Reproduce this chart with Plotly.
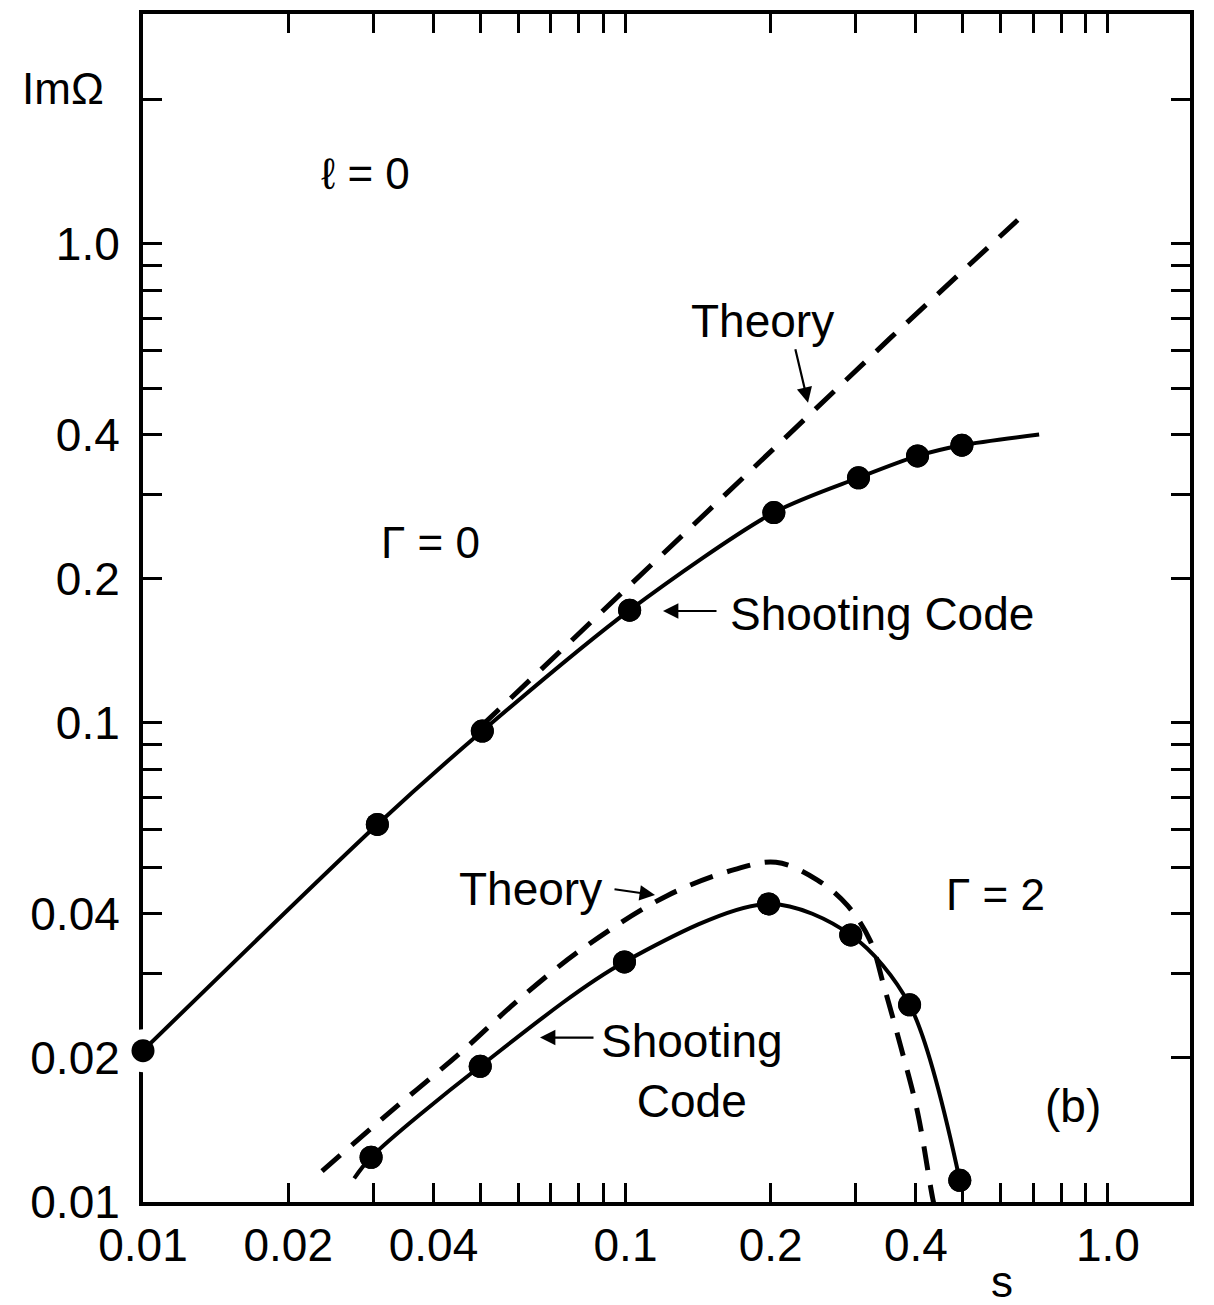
import plotly.graph_objects as go

# ---------------- data ----------------
# Gamma = 0 : shooting code points
g0_s = [0.01, 0.0306, 0.0505, 0.102, 0.203, 0.304, 0.403, 0.498]
g0_im = [0.0207, 0.0614, 0.0962, 0.172, 0.275, 0.325, 0.361, 0.380]
# continuation of the solid Gamma = 0 curve beyond the last point
g0_tail_s = [0.72]
g0_tail_im = [0.40]
# Gamma = 0 : theory (dashed)
g0_theory_s = [0.05, 0.0769, 0.101, 0.231, 0.355, 0.65]
g0_theory_im = [0.098, 0.148, 0.191, 0.425, 0.638, 1.122]

# Gamma = 2 : shooting code points
g2_s = [0.0297, 0.050, 0.0995, 0.198, 0.293, 0.388, 0.493]
g2_im = [0.0124, 0.0192, 0.0317, 0.0419, 0.0361, 0.0258, 0.0111]
# start of the solid Gamma = 2 curve before the first point
g2_head_s = [0.0274]
g2_head_im = [0.0112]
# Gamma = 2 : theory (dashed)
g2_theory_s = [0.0235, 0.0325, 0.0455, 0.0597, 0.0818, 0.122, 0.168, 0.205,
               0.250, 0.289, 0.322, 0.343, 0.372, 0.403, 0.433, 0.44]
g2_theory_im = [0.0116, 0.0154, 0.0205, 0.0263, 0.0339, 0.0436, 0.0494, 0.0512,
                0.0470, 0.0415, 0.0350, 0.0283, 0.0211, 0.0154, 0.0102, 0.0095]

# axis ticks
x_tickvals = [0.01, 0.02, 0.03, 0.04, 0.05, 0.06, 0.07, 0.08, 0.09,
              0.1, 0.2, 0.3, 0.4, 0.5, 0.6, 0.7, 0.8, 0.9, 1.0]
x_ticktext = ["0.01", "0.02", "", "0.04", "", "", "", "", "",
              "0.1", "0.2", "", "0.4", "", "", "", "", "", "1.0"]
y_tickvals = [0.01, 0.02, 0.03, 0.04, 0.05, 0.06, 0.07, 0.08, 0.09,
              0.1, 0.2, 0.3, 0.4, 0.5, 0.6, 0.7, 0.8, 0.9, 1.0, 2.0]
y_ticktext = ["0.01", "0.02", "", "0.04", "", "", "", "", "",
              "0.1", "0.2", "", "0.4", "", "", "", "", "", "1.0", ""]

# ---------------- figure ----------------
W, H = 1214, 1305
ML, MR, MT, MB = 143, 24, 10, 103
PW, PH = W - ML - MR, H - MT - MB
FONT = "Liberation Sans, Arial, Helvetica, sans-serif"


def fx(p):
    return (p - ML) / PW


def fy(p):
    return (H - MB - p) / PH


BLACK = "black"
fig = go.Figure()

# markers first (white halo only on the point sitting on the axis line)
all_s = g0_s + g2_s
all_im = g0_im + g2_im
halo = [20] + [0] * (len(all_s) - 1)
fig.add_trace(go.Scatter(
    x=all_s, y=all_im, mode="markers", cliponaxis=False,
    marker=dict(size=23, color=BLACK, line=dict(color="white", width=halo)),
    showlegend=False, hoverinfo="skip"))

# solid curves
fig.add_trace(go.Scatter(
    x=g0_s + g0_tail_s, y=g0_im + g0_tail_im, mode="lines",
    line=dict(color=BLACK, width=4, shape="spline", smoothing=0.8),
    showlegend=False, hoverinfo="skip"))
fig.add_trace(go.Scatter(
    x=g2_head_s + g2_s, y=g2_head_im + g2_im, mode="lines",
    line=dict(color=BLACK, width=4, shape="spline", smoothing=0.9),
    showlegend=False, hoverinfo="skip"))

# dashed theory curves
fig.add_trace(go.Scatter(
    x=g0_theory_s, y=g0_theory_im, mode="lines",
    line=dict(color=BLACK, width=5, dash="26px,16px"),
    showlegend=False, hoverinfo="skip"))
fig.add_trace(go.Scatter(
    x=g2_theory_s, y=g2_theory_im, mode="lines",
    line=dict(color=BLACK, width=5, dash="24px,15px", shape="spline", smoothing=1.0),
    showlegend=False, hoverinfo="skip"))

# solid dots on top
fig.add_trace(go.Scatter(
    x=all_s, y=all_im, mode="markers", cliponaxis=False,
    marker=dict(size=23, color=BLACK),
    showlegend=False, hoverinfo="skip"))

ax_common = dict(
    type="log", showgrid=False, zeroline=False,
    showline=True, linecolor=BLACK, linewidth=4, mirror="ticks",
    ticks="inside", ticklen=19, tickwidth=2.5, tickcolor=BLACK,
    tickfont=dict(family=FONT, size=46, color=BLACK),
    layer="below traces",
)
fig.update_xaxes(range=[-2, 0.17], tickmode="array",
                 tickvals=x_tickvals, ticktext=x_ticktext,
                 ticklabelstandoff=0, **ax_common)
fig.update_yaxes(range=[-2, 0.48], tickmode="array",
                 tickvals=y_tickvals, ticktext=y_ticktext,
                 ticklabelstandoff=10, **ax_common)


def text(x, y, s, size=46, xanchor="center", yanchor="middle", align="center"):
    fig.add_annotation(x=fx(x), y=fy(y), xref="paper", yref="paper",
                       text=s, showarrow=False, xanchor=xanchor, yanchor=yanchor,
                       align=align, font=dict(family=FONT, size=size, color=BLACK))


def arrow(hx, hy, tx, ty):
    fig.add_annotation(x=fx(hx), y=fy(hy), xref="paper", yref="paper",
                       ax=tx - hx, ay=ty - hy, text="", showarrow=True,
                       arrowhead=2, arrowsize=1.4, arrowwidth=2.2, arrowcolor=BLACK)


text(63, 85, "ImΩ", size=44)
text(365, 170, "ℓ = 0", size=44)
text(762, 318, "Theory", size=46)
text(430, 540, "Γ = 0", size=44)
text(728, 612, "Shooting Code", size=46, xanchor="left")
text(530, 888, "Theory", size=46)
text(995, 893, "Γ = 2", size=44)
text(692, 1071, "Shooting<br>Code", size=46)
text(1073, 1106, "(b)", size=46)
text(1002, 1282, "s", size=44)

arrow(808, 400, 795, 345)
arrow(663, 609, 718, 609)
arrow(655, 894, 613, 888)
arrow(540, 1037, 595, 1037)

fig.update_layout(
    width=W, height=H,
    margin=dict(l=ML, r=MR, t=MT, b=MB, pad=0),
    paper_bgcolor="white", plot_bgcolor="white",
    showlegend=False,
)

fig.write_html("out.html", config={"displayModeBar": False})
